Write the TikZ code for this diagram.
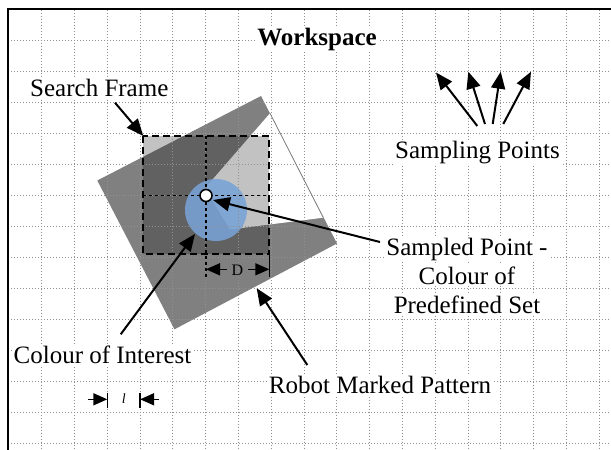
\documentclass[tikz,border=0pt]{standalone}
\usepackage{fontspec}
\setmainfont{Liberation Serif}
\usetikzlibrary{arrows.meta}
\definecolor{patgray}{RGB}{128,128,128}
\definecolor{spotblue}{RGB}{120,163,215}
\definecolor{dotgray}{RGB}{145,145,145}
\begin{document}
\begin{tikzpicture}[x=1pt,y=-1pt,
  gridline/.style={dotgray, line width=1pt, dash pattern=on 1pt off 2pt},
  pointer/.style={line width=2pt, -{Triangle[length=17pt,width=14pt]}},
  dimtip/.style={line width=1.6pt, -{Triangle[length=14pt,width=12pt]}},
  lbl/.style={font=\fontsize{25}{29}\selectfont, fill=white, inner sep=1pt},
  ]
\useasboundingbox (0,0) rectangle (611,450);
\fill[white] (0,0) rectangle (611,450);

% robot marked pattern: rotated square with a wedge cut out of it
\coordinate (sqT) at (261,96);
\coordinate (sqL) at (97.3,180.5);
\coordinate (sqB) at (174.5,329.3);
\coordinate (sqR) at (337,243.5);
\coordinate (nA) at (270,113.3);
\coordinate (nB) at (205,188.2);
\coordinate (nC) at (230,229.5);
\coordinate (nE) at (323.3,217.7);
\fill[patgray] (sqT) -- (sqR) -- (sqB) -- (sqL) -- cycle;
\fill[white] (nA) -- (nB) -- (nC) -- (nE) -- cycle;
\draw[patgray, line width=0.8pt] (nA) -- (nE);

% search frame shading
\coordinate (sfNW) at (143.3,136);
\coordinate (sfSE) at (269.3,254.3);
\fill[black, opacity=0.24] (sfNW) rectangle (sfSE);

% colour of interest
\coordinate (spot) at (216,210);
\fill[spotblue, opacity=0.88] (spot) circle[radius=31];

% workspace grid
\foreach \i in {1,...,18} \draw[gridline] ({8.9+32.8*\i},9.5) -- ({8.9+32.8*\i},450);
\foreach \j in {1,...,14} \draw[gridline] (8,{9.7+31*\j}) -- (611,{9.7+31*\j});

% workspace border
\draw[line width=2pt] (7.5,450) -- (7.5,9.3) -- (611,9.3);

% search frame outline and centre lines
\draw[line width=2pt, dash pattern=on 7pt off 4pt] (sfNW) rectangle (sfSE);
\coordinate (cx) at (206,195.5);
\draw[line width=1.6pt, dash pattern=on 3pt off 3pt] (143.3,195.5) -- (269.3,195.5);
\draw[line width=1.6pt, dash pattern=on 3pt off 3pt] (206,136) -- (206,277);
\draw[line width=1.6pt] (269.3,254.3) -- (269.3,277);

% sampled point
\node[circle, draw, fill=white, line width=1.6pt, minimum size=12pt, inner sep=0pt] (sp) at (cx) {};

% dimension D
\coordinate (dLt) at (206,269.3);
\coordinate (dLs) at (227,269.3);
\coordinate (dRt) at (269.3,269.3);
\coordinate (dRs) at (248,269.3);
\draw[dimtip] (dLs) -- (dLt);
\draw[dimtip] (dRs) -- (dRt);
\node[font=\fontsize{16}{18}\selectfont, inner sep=0pt, anchor=base] (dlab) at (237.5,275.5) {D};

% dimension l (one grid cell)
\draw[line width=1.6pt] (107.3,392.5) -- (107.3,407.5);
\draw[line width=1.6pt] (140.1,392.5) -- (140.1,407.5);
\coordinate (lLs) at (88,399.3);
\coordinate (lLt) at (107.3,399.3);
\coordinate (lRs) at (159,399.3);
\coordinate (lRt) at (140.1,399.3);
\draw[dimtip] (lLs) -- (lLt);
\draw[dimtip] (lRs) -- (lRt);
\node[font=\fontsize{14}{16}\selectfont\itshape, inner sep=0pt, anchor=base] (llab) at (123.7,403.5) {l};

% labels
\node[lbl, font=\fontsize{25}{29}\selectfont\bfseries, anchor=base] (ws) at (317,45) {Workspace};
\node[lbl, anchor=base] (sf) at (99.3,96.7) {Search Frame};
\node[lbl, anchor=base] (spts) at (477.5,158.3) {Sampling Points};
\node[lbl, anchor=base] (sp1) at (467,255) {Sampled Point -};
\node[lbl, anchor=base] (sp2) at (467,284) {Colour of};
\node[lbl, anchor=base] (sp3) at (467,313.3) {Predefined Set};
\node[lbl, anchor=base] (coi) at (102.5,363.3) {Colour of Interest};
\node[lbl, anchor=base] (rmp) at (380,393.3) {Robot Marked Pattern};

% pointers
\coordinate (sfTail) at (115,102.7);
\draw[pointer] (sfTail) -- (sfNW);

\coordinate (s1) at (477.3,126);
\coordinate (s2) at (485,124);
\coordinate (s3) at (492.7,124);
\coordinate (s4) at (503.3,124);
\coordinate (g1) at (436,72.5);
\coordinate (g2) at (468.3,71.7);
\coordinate (g3) at (500.7,71.7);
\coordinate (g4) at (531,71.7);
\draw[pointer] (s1) -- (g1);
\draw[pointer] (s2) -- (g2);
\draw[pointer] (s3) -- (g3);
\draw[pointer] (s4) -- (g4);

\coordinate (spTail) at (380,242);
\coordinate (spTip) at (213,200);
\draw[pointer] (spTail) -- (spTip);

\coordinate (coiTail) at (120.7,334.3);
\coordinate (coiTip) at (195,234);
\draw[pointer] (coiTail) -- (coiTip);

\coordinate (rmpTail) at (307.3,365);
\coordinate (rmpTip) at (256.7,288.3);
\draw[pointer] (rmpTail) -- (rmpTip);
\end{tikzpicture}
\end{document}
